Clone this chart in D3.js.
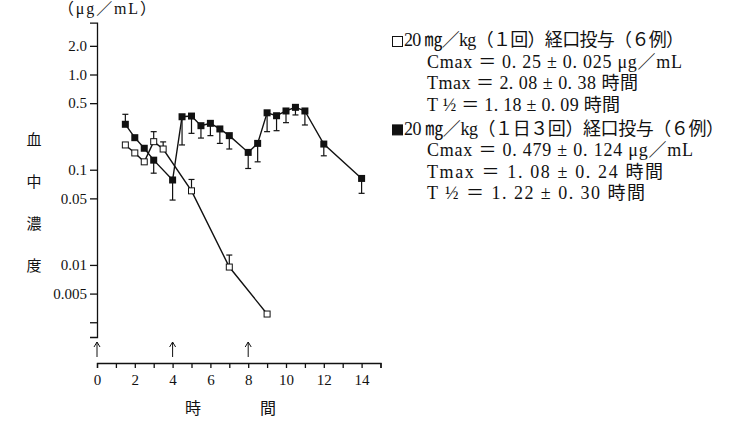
<!DOCTYPE html>
<html>
<head>
<meta charset="utf-8">
<script src="https://cdn.jsdelivr.net/npm/d3@7"></script>
<style>
  body { margin: 0; background: #fff; }
  svg { display: block; }
  text { font-family: "Liberation Serif", "DejaVu Serif", "Noto Sans CJK JP", serif; fill: #111; }
  .cjk { font-family: "Noto Sans CJK JP", sans-serif; }
</style>
</head>
<body>
<svg id="chart" width="731" height="423"></svg>
<script>
// 単回投与 (open squares)
var singleTimes = [1.5, 2, 2.5, 3, 3.5, 5, 7, 9];
var singleValues = [0.182, 0.150, 0.121, 0.197, 0.165, 0.060, 0.0095, 0.00305];
var singleErrHigh = [null, null, null, 0.251, 0.196, 0.079, 0.0127, null];

// 1日3回投与 (filled squares)
var multiTimes = [1.5, 2, 2.5, 3, 4, 4.5, 5, 5.5, 6, 6.5, 7, 8, 8.5, 9, 9.5, 10, 10.5, 11, 12, 14];
var multiValues = [0.30, 0.217, 0.168, 0.126, 0.078, 0.36, 0.366, 0.29, 0.307, 0.268, 0.228, 0.152, 0.189, 0.396, 0.369, 0.414, 0.452, 0.414, 0.186, 0.081];
var multiErrLow = [null, null, null, 0.092, 0.048, 0.182, 0.241, 0.215, 0.228, 0.189, 0.165, 0.103, 0.121, 0.251, 0.257, 0.312, 0.376, 0.295, 0.140, 0.0565];
var multiErrHigh = [0.382, null, null, null, null, null, null, null, null, null, null, null, null, null, null, null, null, null, null, null];

var yTicks = [2, 1, 0.5, 0.1, 0.05, 0.01, 0.005, 0.0025];
var yTickLabels = ["2.0", "1.0", "0.5", "0.1", "0.05", "0.01", "0.005", ""];
var doseTimes = [0, 4, 8];

var legendTexts = [
    "20 ㎎／kg（１回）経口投与（６例）",
    "Cmax ＝ 0. 25 ± 0. 025 μg／mL",
    "Tmax ＝ 2. 08 ± 0. 38 時間",
    "T ½ ＝ 1. 18 ± 0. 09 時間",
    "20 ㎎／kg（１日３回）経口投与（６例）",
    "Cmax ＝ 0. 479 ± 0. 124 μg／mL",
    "Tmax ＝ 1. 08 ± 0. 24 時間",
    "T ½ ＝ 1. 22 ± 0. 30 時間"
];
var legendBoxes = ["open", null, null, null, "filled", null, null, null];

var svg = d3.select("#chart");

var x = d3.scaleLinear().domain([0, 15]).range([97, 380.5]);
var y = d3.scaleLog().domain([3.5, 0.00175]).range([22.7, 337]);

// y axis
var yAxis = d3.axisLeft(y)
    .tickValues(yTicks)
    .tickSizeOuter(0)
    .tickSize(7)
    .tickPadding(3)
    .tickFormat(function (d, i) { return yTickLabels[i]; });

var gy = svg.append("g")
    .attr("transform", "translate(" + x(0) + ",0)")
    .call(yAxis);
gy.selectAll("text").style("font-size", "15px").style("font-family", "Liberation Serif");
gy.selectAll("path, line").attr("stroke", "#111").attr("stroke-width", 1.3);

// x axis
var xBase = 363;
var xAxis = d3.axisBottom(x)
    .tickValues(d3.range(0, 16))
    .tickSizeOuter(0)
    .tickSize(5)
    .tickPadding(6)
    .tickFormat(function (d) { return d % 2 === 0 && d <= 14 ? d : ""; });

var gx = svg.append("g")
    .attr("transform", "translate(0," + xBase + ")")
    .call(xAxis);
gx.selectAll("text").style("font-size", "15px").style("font-family", "Liberation Serif");
gx.selectAll("path, line").attr("stroke", "#111").attr("stroke-width", 1.3);

// dosing arrows
var arrows = svg.append("g").attr("stroke", "#111").attr("stroke-width", 1).attr("fill", "none");
doseTimes.forEach(function (t) {
    var ax = x(t);
    arrows.append("line").attr("x1", ax).attr("x2", ax).attr("y1", 342).attr("y2", 357);
    arrows.append("path").attr("d", "M" + (ax - 3) + ",347 L" + ax + ",342 L" + (ax + 3) + ",347");
});

// lines
var line = d3.line()
    .x(function (d) { return x(d.t); })
    .y(function (d) { return y(d.v); });

var single = singleTimes.map(function (t, i) {
    return { t: t, v: singleValues[i], hi: singleErrHigh[i] };
});
var multi = multiTimes.map(function (t, i) {
    return { t: t, v: multiValues[i], lo: multiErrLow[i], hi: multiErrHigh[i] };
});

svg.append("path").datum(single)
    .attr("d", line).attr("fill", "none").attr("stroke", "#111").attr("stroke-width", 1.4);
svg.append("path").datum(multi)
    .attr("d", line).attr("fill", "none").attr("stroke", "#111").attr("stroke-width", 1.4);

// error bars
function errBars(data, key) {
    var g = svg.append("g").attr("stroke", "#111").attr("stroke-width", 1.2);
    data.filter(function (d) { return d[key] != null; }).forEach(function (d) {
        var cx = x(d.t);
        g.append("line").attr("x1", cx).attr("x2", cx).attr("y1", y(d.v)).attr("y2", y(d[key]));
        g.append("line").attr("x1", cx - 3).attr("x2", cx + 3).attr("y1", y(d[key])).attr("y2", y(d[key]));
    });
}
errBars(multi, "lo");
errBars(multi, "hi");
errBars(single, "hi");

// markers
var ms = 7;
svg.append("g").selectAll("rect").data(multi).enter().append("rect")
    .attr("x", function (d) { return x(d.t) - ms / 2; })
    .attr("y", function (d) { return y(d.v) - ms / 2; })
    .attr("width", ms).attr("height", ms)
    .attr("fill", "#111");
svg.append("g").selectAll("rect").data(single).enter().append("rect")
    .attr("x", function (d) { return x(d.t) - ms / 2 + 0.5; })
    .attr("y", function (d) { return y(d.v) - ms / 2 + 0.5; })
    .attr("width", ms - 1).attr("height", ms - 1)
    .attr("fill", "#fff").attr("stroke", "#111").attr("stroke-width", 1);

// axis titles
svg.append("text").attr("x", 58).attr("y", 14).style("font-size", "16px")
    .attr("textLength", 98).attr("lengthAdjust", "spacing").text("（μg／mL）");

["血", "中", "濃", "度"].forEach(function (c, i) {
    svg.append("text").attr("class", "cjk").attr("x", 34).attr("y", 141 + i * 42)
        .attr("text-anchor", "middle").attr("dominant-baseline", "middle")
        .style("font-size", "15px").text(c);
});

svg.append("text").attr("class", "cjk").attr("x", 193).attr("y", 410)
    .attr("text-anchor", "middle").attr("dominant-baseline", "middle").style("font-size", "16px").text("時");
svg.append("text").attr("class", "cjk").attr("x", 268).attr("y", 410)
    .attr("text-anchor", "middle").attr("dominant-baseline", "middle").style("font-size", "16px").text("間");

// legend
var legendWidths = [280, 255, 211, 193, 320, 266, 236, 218];
var lg = svg.append("g");
legendTexts.forEach(function (txt, i) {
    var ly = 42 + i * 21.6 + (i >= 4 ? 2 : 0);
    var box = legendBoxes[i];
    if (box) {
        lg.append("rect").attr("x", 392.5).attr("y", ly - 5.5).attr("width", 10).attr("height", 10)
            .attr("fill", box === "filled" ? "#111" : "#fff")
            .attr("stroke", "#111").attr("stroke-width", 1);
    }
    lg.append("text").attr("x", box ? 404 : 427).attr("y", ly).attr("dominant-baseline", "middle")
        .attr("textLength", legendWidths[i]).attr("lengthAdjust", "spacing")
        .style("font-size", "18px").text(txt);
});
</script>
</body>
</html>
